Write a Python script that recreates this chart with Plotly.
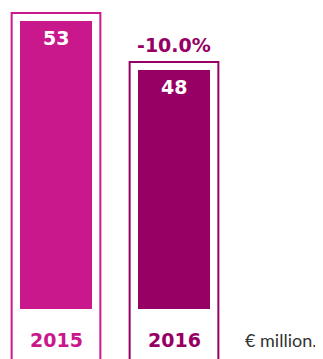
import plotly.graph_objects as go

categories = ["2015", "2016"]
values = [53, 48]
value_labels = ["53", "48"]
change_label = "-10.0%"
unit_label = "€ million."
colors = ["#C8188C", "#960064"]

x_pos = list(range(len(categories)))

# axis scale (broken axis: baseline does not start at zero)
Y_MIN = 18.51
Y_MAX = 54.33
BASE = 23.61
FRAME_PAD = 0.82

BOLD = "DejaVu Sans"

fig = go.Figure()

# outer frames
fig.add_trace(go.Bar(
    x=x_pos,
    y=[v + FRAME_PAD - (Y_MIN - 5) for v in values],
    base=Y_MIN - 5,
    width=0.752,
    marker=dict(color="rgba(0,0,0,0)", line=dict(color=colors, width=2)),
    hoverinfo="skip",
    showlegend=False,
))

# inner bars
fig.add_trace(go.Bar(
    x=x_pos,
    y=[v - BASE for v in values],
    base=BASE,
    width=0.61,
    marker=dict(color=colors, line=dict(width=0)),
    showlegend=False,
))

annotations = []
for i, (v, lab) in enumerate(zip(values, value_labels)):
    annotations.append(dict(
        x=i, y=v, xref="x", yref="y", text=f"<b>{lab}</b>",
        showarrow=False, yanchor="top", yshift=-4,
        font=dict(family=BOLD, size=19, color="white"),
    ))
for i, cat in enumerate(categories):
    annotations.append(dict(
        x=i, y=0.054, xref="x", yref="paper", text=f"<b>{cat}</b>",
        showarrow=False, yanchor="middle",
        font=dict(family=BOLD, size=19, color=colors[i]),
    ))
annotations.append(dict(
    x=1, y=values[1] + 2.55, xref="x", yref="y", text=f"<b>{change_label}</b>",
    showarrow=False, yanchor="middle",
    font=dict(family=BOLD, size=19, color=colors[1]),
))
annotations.append(dict(
    x=0.745, y=0.054, xref="paper", yref="paper", text=unit_label,
    showarrow=False, xanchor="left", yanchor="middle",
    font=dict(family="Lato", size=18, color="#333333"),
))

fig.update_layout(
    width=315, height=351,
    margin=dict(l=0, r=0, t=0, b=0),
    paper_bgcolor="white", plot_bgcolor="white",
    barmode="overlay",
    xaxis=dict(range=[-48 / 118, (315 - 48) / 118], visible=False, fixedrange=True),
    yaxis=dict(range=[Y_MIN, Y_MAX], visible=False, fixedrange=True),
    annotations=annotations,
)

fig.write_html("out.html")
